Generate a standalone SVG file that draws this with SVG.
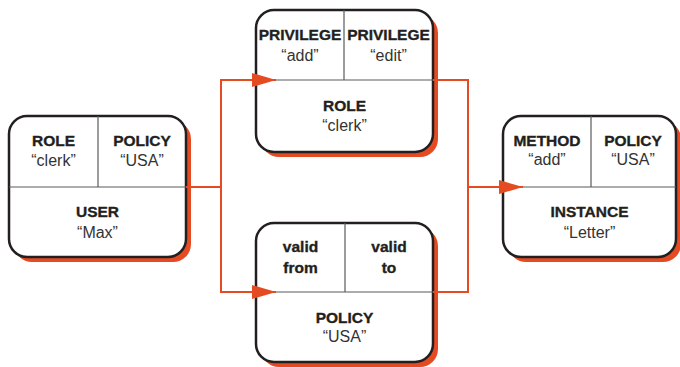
<svg xmlns="http://www.w3.org/2000/svg" width="680" height="367" viewBox="0 0 680 367">
  <style>
    .shadow { fill: #e54b22; }
    .box { fill: #ffffff; stroke: #231f20; stroke-width: 2.5; }
    .div { stroke: #5a5a5a; stroke-width: 1.2; fill: none; }
    .wire { stroke: #e54b22; stroke-width: 2; fill: none; }
    .b { font-family: "Liberation Sans", Arial, sans-serif; font-weight: bold; font-size: 15.5px; fill: #231f20; stroke: #231f20; stroke-width: 0.35; text-anchor: middle; }
    .r { font-family: "Liberation Sans", Arial, sans-serif; font-size: 16px; fill: #333333; text-anchor: middle; }
  </style>
  <defs>
    <marker id="arrow" markerUnits="userSpaceOnUse" markerWidth="26" markerHeight="16" refX="24" refY="7" orient="auto">
      <path d="M0,0 L24,7 L0,14 Z" fill="#e54b22"/>
    </marker>
  </defs>

  <!-- user node -->
  <g id="user">
    <rect class="shadow" x="14" y="121" width="177" height="141" rx="18"/>
    <rect class="box" x="9" y="116" width="177" height="141" rx="18"/>
    <line class="div" x1="9" y1="187" x2="186" y2="187"/>
    <line class="div" x1="98" y1="116" x2="98" y2="187"/>
    <text class="b" x="53.5" y="146">ROLE</text>
    <text class="r" x="53.5" y="166">“clerk”</text>
    <text class="b" x="142" y="146">POLICY</text>
    <text class="r" x="142" y="166">“USA”</text>
    <text class="b" x="97.5" y="217">USER</text>
    <text class="r" x="97.5" y="238">“Max”</text>
  </g>

  <!-- role node -->
  <g id="role">
    <rect class="shadow" x="261" y="15" width="177" height="142" rx="18"/>
    <rect class="box" x="256" y="10" width="177" height="142" rx="18"/>
    <line class="div" x1="256" y1="80" x2="433" y2="80"/>
    <line class="div" x1="344" y1="10" x2="344" y2="80"/>
    <text class="b" x="300" y="40">PRIVILEGE</text>
    <text class="r" x="300" y="61">“add”</text>
    <text class="b" x="388.5" y="40">PRIVILEGE</text>
    <text class="r" x="388.5" y="61">“edit”</text>
    <text class="b" x="344.5" y="111">ROLE</text>
    <text class="r" x="344.5" y="131">“clerk”</text>
  </g>

  <!-- policy node -->
  <g id="policy">
    <rect class="shadow" x="261" y="228" width="177" height="139" rx="18"/>
    <rect class="box" x="256" y="223" width="177" height="139" rx="18"/>
    <line class="div" x1="256" y1="292" x2="433" y2="292"/>
    <line class="div" x1="345" y1="223" x2="345" y2="292"/>
    <text class="b" x="300.5" y="252">valid</text>
    <text class="b" x="300.5" y="273">from</text>
    <text class="b" x="389" y="252">valid</text>
    <text class="b" x="389" y="273">to</text>
    <text class="b" x="344.5" y="323">POLICY</text>
    <text class="r" x="344.5" y="342">“USA”</text>
  </g>

  <!-- instance node -->
  <g id="instance">
    <rect class="shadow" x="508" y="121" width="173" height="141" rx="18"/>
    <rect class="box" x="503" y="116" width="173" height="141" rx="18"/>
    <line class="div" x1="503" y1="187" x2="676" y2="187"/>
    <line class="div" x1="591" y1="116" x2="591" y2="187"/>
    <text class="b" x="547" y="146">METHOD</text>
    <text class="r" x="547" y="165">“add”</text>
    <text class="b" x="633" y="146">POLICY</text>
    <text class="r" x="633" y="165">“USA”</text>
    <text class="b" x="589.5" y="217">INSTANCE</text>
    <text class="r" x="589.5" y="238">“Letter”</text>
  </g>

  <!-- connectors -->
  <g id="connectors">
    <line class="wire" x1="186" y1="187" x2="221" y2="187"/>
    <line class="wire" x1="221" y1="79" x2="221" y2="293"/>
    <line class="wire" x1="221" y1="80" x2="276" y2="80" marker-end="url(#arrow)"/>
    <line class="wire" x1="221" y1="292" x2="276" y2="292" marker-end="url(#arrow)"/>
    <polyline class="wire" points="433,80 468,80 468,292 433,292"/>
    <line class="wire" x1="468" y1="187" x2="523" y2="187" marker-end="url(#arrow)"/>
  </g>
</svg>
